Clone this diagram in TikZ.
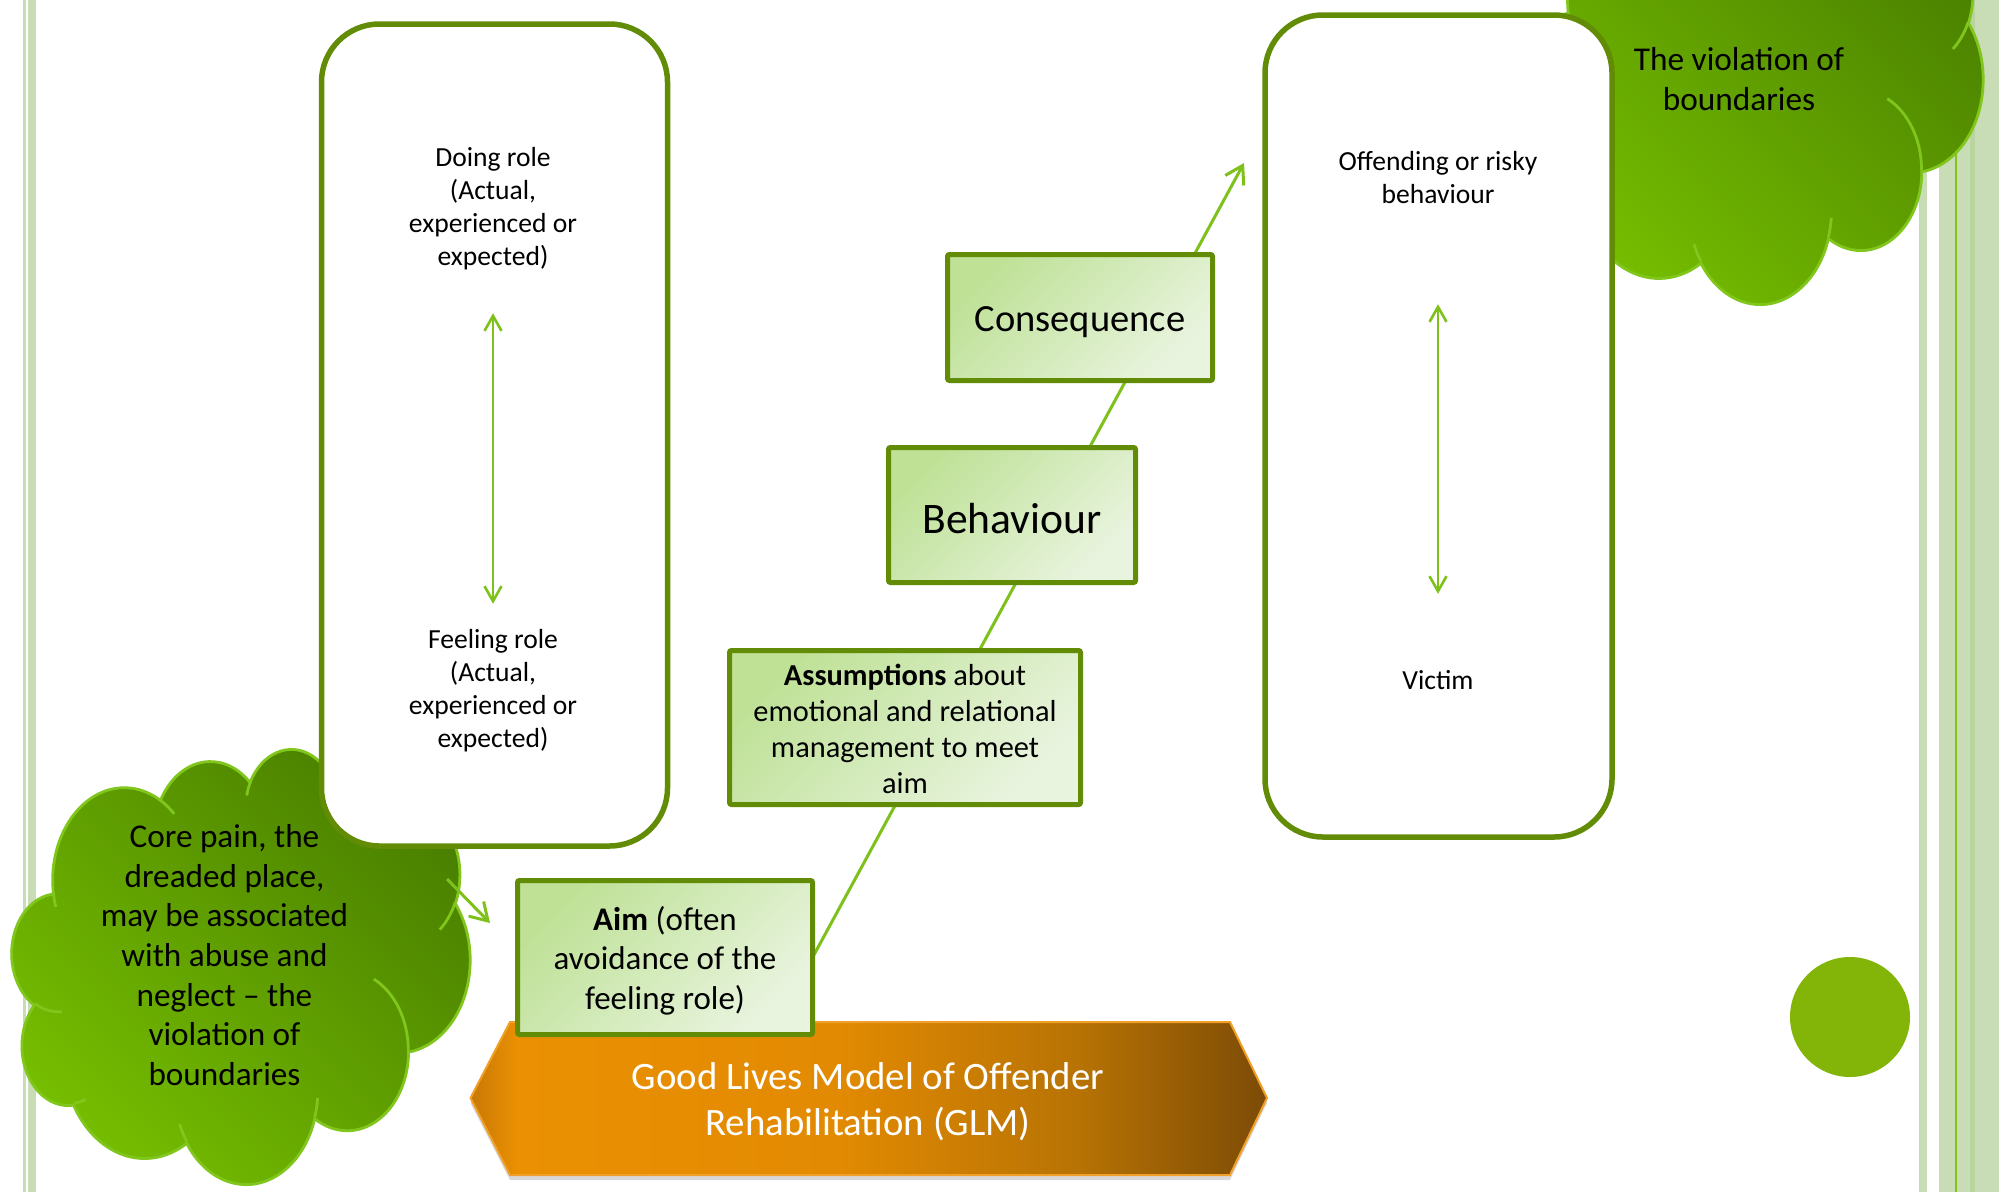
\documentclass[tikz,border=0pt]{standalone}
\usepackage{fontspec}
\setmainfont{Carlito}
\usetikzlibrary{arrows.meta,shadows}

\definecolor{boxborder}{RGB}{98,140,6}
\definecolor{connector}{RGB}{125,193,26}
\definecolor{cloudline}{RGB}{128,198,28}
\definecolor{cloudlight}{RGB}{118,190,0}
\definecolor{clouddark}{RGB}{74,128,0}
\definecolor{stripe}{RGB}{200,221,181}
\definecolor{stripedark}{RGB}{186,212,160}
\definecolor{stripeline}{RGB}{134,194,24}
\definecolor{dotgreen}{RGB}{130,181,7}
\definecolor{boxA}{RGB}{190,225,150}
\definecolor{boxB}{RGB}{233,244,223}
\definecolor{glmA}{RGB}{200,120,5}
\definecolor{glmB}{RGB}{234,144,2}
\definecolor{glmC}{RGB}{226,138,2}
\definecolor{glmD}{RGB}{184,115,4}
\definecolor{glmE}{RGB}{124,75,6}
\definecolor{glmline}{RGB}{240,160,40}

\pgfdeclarehorizontalshading{glmshade}{100bp}{color(0bp)=(glmA); color(25bp)=(glmA); color(28bp)=(glmB); color(48bp)=(glmC); color(63bp)=(glmD); color(75bp)=(glmE); color(100bp)=(glmE)}

\pgfdeclarelayer{bgl}
\pgfdeclarelayer{lines}
\pgfsetlayers{bgl,lines,main}

\newcommand\mkarc[5]{%
  \pgfmathsetmacro\mkarcS{atan2((#2)*sin(#4),(#3)*cos(#4))}%
  \pgfmathsetmacro\mkarcE{atan2((#2)*sin((#4)+(#5)),(#3)*cos((#4)+(#5)))}%
  \pgfmathsetmacro\mkarcF{(\mkarcS)+mod((\mkarcE)-(\mkarcS)+720,360)}%
  \expandafter\xdef\csname cl#1\endcsname{arc[start angle=\mkarcS,end angle=\mkarcF,x radius=#2pt,y radius=#3pt]}%
}
\mkarc{oA}{67.53}{91.90}{-190.487}{123.781}
\mkarc{oB}{53.33}{72.67}{-144.102}{89.945}
\mkarc{oC}{43.65}{59.45}{-145.808}{99.723}
\mkarc{oD}{48.57}{65.95}{-130.986}{117.242}
\mkarc{oE}{53.33}{72.73}{-78.709}{109.027}
\mkarc{oF}{67.75}{92.20}{-46.267}{130.269}
\mkarc{oG}{57.85}{78.67}{0.625}{114.033}
\mkarc{oH}{67.52}{92.15}{22.452}{115.173}
\mkarc{oI}{77.20}{105.43}{66.243}{75.711}
\mkarc{oJ}{43.60}{59.18}{-274.942}{146.736}
\mkarc{oK}{43.45}{59.45}{-246.829}{152.519}
\mkarc{ia}{43.45}{59.45}{86.742}{26.430}
\mkarc{ib}{43.60}{59.18}{73.610}{11.447}
\mkarc{ic}{67.52}{92.15}{137.624}{14.081}
\mkarc{id}{67.52}{92.15}{6.453}{15.998}
\mkarc{ie}{57.85}{78.67}{-70.292}{70.917}
\mkarc{if}{53.33}{72.73}{30.318}{27.752}
\mkarc{ig}{48.57}{65.95}{-13.744}{14.851}
\mkarc{ih}{48.57}{65.95}{-149.181}{18.198}
\mkarc{ii}{43.65}{59.45}{-163.494}{17.700}
\mkarc{ij}{67.53}{91.90}{-66.707}{12.319}
\mkarc{ik}{67.53}{91.90}{157.654}{11.858}

\newcommand\cloudoutline{(39,143.7) \cloA \cloB \cloC \cloD \cloE \cloF \cloG \cloH \cloI \cloJ \cloK -- cycle}
\newcommand\cloudinner{(46.93,261.77) \clia (69.28,348.99) \clib (164.78,390.90) \clic (288.27,347.51) \clid (341.29,229.54) \clie (417.98,153.54) \clif (383.24,54.26) \clig (290.78,39.52) \clih (221.41,47.20) \clii (140.00,51.92) \clij (41.27,157.89) \clik}

\newcommand\drawcloud[4]{%
  \begin{scope}[shift={(#1,#2)},x=1pt,y=1pt,xscale=#3/432,yscale=-#4/432]
    \path[cloudbody] \cloudoutline;
    \draw[cloudarcs] \cloudinner;
  \end{scope}}

\begin{document}
\begin{tikzpicture}[x=1pt,y=-1pt,
  cloudbody/.style={draw=cloudline,line width=2.8pt,top color=clouddark,bottom color=cloudlight,shading angle=-45},
  cloudarcs/.style={draw=cloudline,line width=2.8pt},
  rolebox/.style={draw=boxborder,line width=5.5pt,fill=white,rounded corners=58pt,inner sep=0pt,outer sep=0pt},
  greenbox/.style={draw=boxborder,line width=5pt,rounded corners=2pt,top color=boxA,bottom color=boxB,shading angle=45,inner sep=0pt,outer sep=0pt,align=center},
  strutted/.style={execute at begin node=\strut,execute at end node=\strut},
  roletext/.style={font=\fontsize{27.6}{33}\selectfont,align=center,inner sep=0pt,strutted},
  cloudtext/.style={align=center,inner sep=0pt,strutted},
  boxtext/.style={align=center,inner sep=0pt,strutted},
  conn/.style={draw=connector,line width=3pt},
  headtip/.style={-{Straight Barb[length=17pt,width=21pt]}},
  dblarrow/.style={draw=connector,line width=2.6pt,{Straight Barb[length=15pt,width=17pt]}-{Straight Barb[length=15pt,width=17pt]}}
]
\useasboundingbox (0,0) rectangle (1999,1192);
\begin{pgfonlayer}{bgl}
  \fill[white] (0,0) rectangle (1999,1192);
\end{pgfonlayer}
% side stripes
\fill[stripe] (23,0) rectangle (26,1192);
\fill[stripe] (28,0) rectangle (36,1192);
\fill[stripe] (1919,0) rectangle (1927,1192);
\fill[stripe] (1939,0) rectangle (1999,1192);
\fill[stripeline] (1955,0) rectangle (1957,1192);
\fill[stripedark] (1970,0) rectangle (1975,1192);
% dot
\fill[dotgreen] (1850,1017) circle (60pt);
% clouds
\drawcloud{1527}{-133}{456}{436}
\drawcloud{12}{748}{458}{435}
\node[cloudtext,font=\fontsize{33.3}{40}\selectfont] (violation) at (1739,85) {The violation of\\boundaries};
\node[cloudtext,font=\fontsize{33.2}{39.7}\selectfont] (corepain) at (224.5,961) {Core pain, the\\dreaded place,\\may be associated\\with abuse and\\neglect – the\\violation of\\boundaries};
% GLM banner
\coordinate (h1) at (470.5,1098);
\coordinate (h2) at (510,1022);
\coordinate (h3) at (1230,1022);
\coordinate (h4) at (1267,1098);
\coordinate (h5) at (1230,1175);
\coordinate (h6) at (510,1175);
\path[shade,shading=glmshade,draw=glmline,line width=2pt,drop shadow={opacity=0.3,shadow xshift=0pt,shadow yshift=-5pt}] (h1) -- (h2) -- (h3) -- (h4) -- (h5) -- (h6) -- cycle;
\node[align=center,inner sep=0pt,strutted,text=white,font=\fontsize{38.8}{46}\selectfont] (glm) at (868,1106.3) {Good Lives Model of Offender\\Rehabilitation (GLM)};
% big rounded boxes
\node[rolebox,minimum width=346pt,minimum height=822pt] (leftbox) at (494.5,435) {};
\node[rolebox,minimum width=347pt,minimum height=822pt] (rightbox) at (1438.5,426) {};
\node[roletext] (doing) at (493,211) {Doing role\\(Actual,\\experienced or\\expected)};
\node[roletext] (feeling) at (493,693) {Feeling role\\(Actual,\\experienced or\\expected)};
\node[roletext] (offending) at (1438,182.5) {Offending or risky\\behaviour};
\node[roletext] (victim) at (1438,683) {Victim};
\draw[dblarrow,shorten <=38pt,shorten >=25pt] (doing.south) -- (feeling.north);
\draw[dblarrow,shorten <=90.5pt,shorten >=72.5pt] (offending.south) -- (victim.north);
% green boxes
\node[greenbox,minimum width=265pt,minimum height=126pt,font=\fontsize{38.5}{47}\selectfont,text height=37.3pt,text depth=9.6pt] (consequence) at (1080,317.5) {Consequence};
\node[greenbox,minimum width=247pt,minimum height=135pt,font=\fontsize{43.6}{53}\selectfont,text height=47.3pt,text depth=10.9pt] (behaviour) at (1012,515) {Behaviour};
\node[greenbox,minimum width=351pt,minimum height=154pt] (assumptions) at (905,727.5) {};
\node[boxtext,font=\fontsize{30.4}{36}\selectfont] (assumptionstext) at (905,734) {\textbf{Assumptions} about\\emotional and relational\\management to meet\\aim};
\node[greenbox,minimum width=295pt,minimum height=154pt] (aim) at (665,957.5) {};
\node[boxtext,font=\fontsize{33}{39.5}\selectfont] (aimtext) at (665,963.5) {\textbf{Aim} (often\\avoidance of the\\feeling role)};
% connectors
\coordinate (tip) at (1244,163);
\begin{pgfonlayer}{lines}
  \draw[conn,headtip] (aim.east) -- (tip);
\end{pgfonlayer}
\coordinate (cstart) at (447,879);
\coordinate (cend) at (490,923);
\draw[conn,headtip] (cstart) -- (cend);
\end{tikzpicture}
\end{document}
